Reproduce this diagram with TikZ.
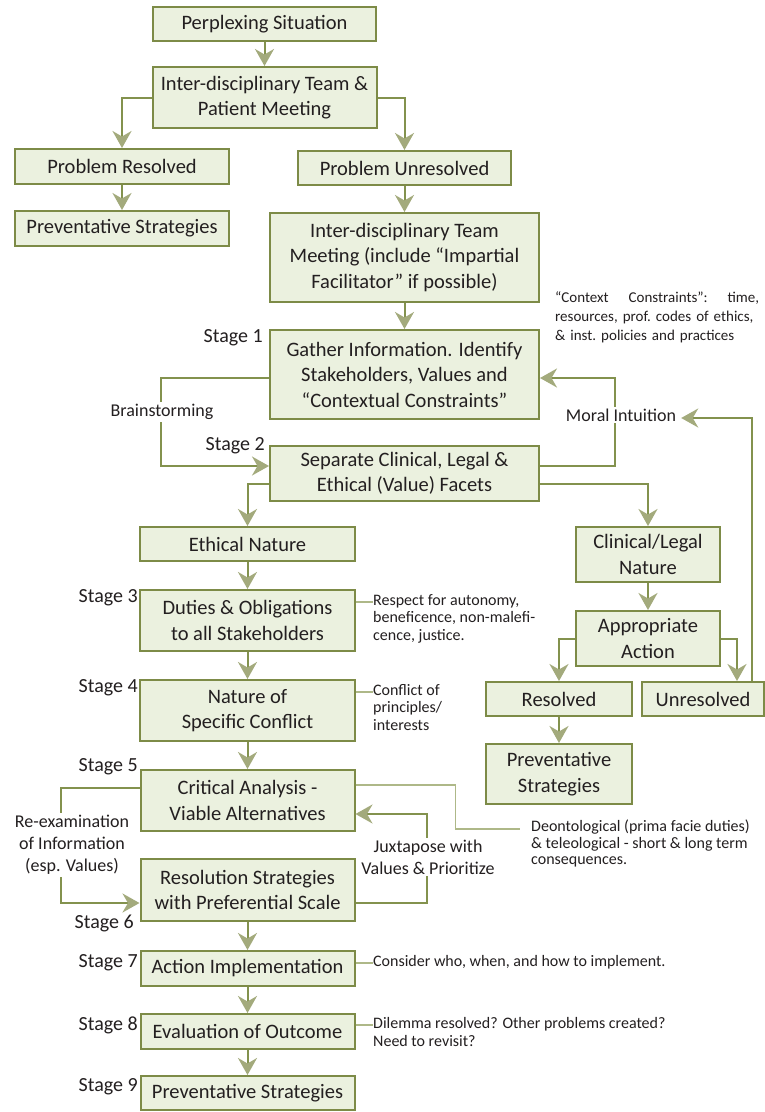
\documentclass[tikz,border=0pt]{standalone}
\usepackage{fontspec}
\setmainfont{Carlito}
\usetikzlibrary{arrows.meta,calc}
\definecolor{boxc}{HTML}{7D8B47}
\definecolor{fillc}{HTML}{EBF1DF}
\definecolor{linec}{HTML}{83924E}
\definecolor{arrc}{HTML}{A3AA7C}
\definecolor{lightc}{HTML}{AEB888}
\definecolor{txtc}{HTML}{231F20}
\begin{document}
\begin{tikzpicture}[x=1pt,y=-1pt,
 box/.style={draw=boxc, fill=fillc, line width=2pt, align=center, inner sep=0pt, text=txtc, font=\fontsize{20.5}{25.5}\selectfont},
 conn/.style={draw=linec, line width=2pt, -{Stealth[length=17pt,width=19pt,inset=5.5pt,color=arrc]}},
 thinline/.style={draw=lightc, line width=1.3pt},
 note/.style={align=left, text=txtc, font=\fontsize{16}{17.5}\selectfont, inner sep=0pt, anchor=north west},
 stage/.style={anchor=east, text=txtc, font=\fontsize{20}{22}\selectfont, inner sep=0pt},
 lab/.style={fill=white, align=center, text=txtc, font=\fontsize{18}{22}\selectfont, inner sep=2pt}]
\useasboundingbox (0,0) rectangle (765,1112);
\fill[white] (0,0) rectangle (765,1112);

% boxes
\node[box, minimum width=223pt, minimum height=34pt] (sit) at (264.5,24) {Perplexing Situation};
\node[box, minimum width=224pt, minimum height=61pt] (ipm) at (264.5,97.5) {Inter-disciplinary Team \&\\Patient Meeting};
\node[box, minimum width=214pt, minimum height=35pt] (pres) at (122,166.5) {Problem Resolved};
\node[box, minimum width=214pt, minimum height=35pt] (prevL) at (122,228.5) {Preventative Strategies};
\node[box, minimum width=213pt, minimum height=34pt] (punres) at (404.5,168) {Problem Unresolved};
\node[box, minimum width=269pt, minimum height=89pt] (itm) at (404.5,257.5) {Inter-disciplinary Team\\Meeting (include “Impartial\\Facilitator” if possible)};
\node[box, minimum width=269pt, minimum height=89pt] (gather) at (404.5,374.5) {Gather Information. Identify\\Stakeholders, Values and\\“Contextual Constraints”};
\node[box, minimum width=269pt, minimum height=55pt] (sep) at (404.5,473.5) {Separate Clinical, Legal \&\\Ethical (Value) Facets};
\node[box, minimum width=215pt, minimum height=34pt] (eth) at (247.5,544) {Ethical Nature};
\node[box, minimum width=215pt, minimum height=61pt] (duties) at (247.5,620.5) {Duties \& Obligations\\to all Stakeholders};
\node[box, minimum width=215pt, minimum height=61pt] (conf) at (247.5,710.5) {Nature of\\Specific Conflict};
\node[box, minimum width=214pt, minimum height=61pt] (crit) at (247.5,800.5) {Critical Analysis -\\Viable Alternatives};
\node[box, minimum width=214pt, minimum height=62pt] (resol) at (247.5,890) {Resolution Strategies\\with Preferential Scale};
\node[box, minimum width=214pt, minimum height=35pt] (act) at (247.5,968.5) {Action Implementation};
\node[box, minimum width=214pt, minimum height=35pt] (eval) at (247.5,1031.5) {Evaluation of Outcome};
\node[box, minimum width=214pt, minimum height=34pt] (prev9) at (247.5,1093) {Preventative Strategies};
\node[box, minimum width=144pt, minimum height=55pt] (clin) at (648,554.5) {Clinical/Legal\\Nature};
\node[box, minimum width=144pt, minimum height=55pt] (appr) at (648,638.5) {Appropriate\\Action};
\node[box, minimum width=146pt, minimum height=34pt] (resd) at (559,699) {Resolved};
\node[box, minimum width=122pt, minimum height=34pt] (unres) at (703,699) {Unresolved};
\node[box, minimum width=146pt, minimum height=60pt] (prevR) at (559,774) {Preventative\\Strategies};

% stage labels
\node[stage] (s1) at (263,338) {Stage 1};
\node[stage] (s2) at (265,446) {Stage 2};
\node[stage] (s3) at (138,598) {Stage 3};
\node[stage] (s4) at (138,688) {Stage 4};
\node[stage] (s5) at (138,767) {Stage 5};
\node[stage] (s6) at (134,923) {Stage 6};
\node[stage] (s7) at (138,963) {Stage 7};
\node[stage] (s8) at (138,1025) {Stage 8};
\node[stage] (s9) at (138,1087) {Stage 9};

% notes
\node[note, text width=204pt, font=\fontsize{15}{19}\selectfont] (ctx) at (555,291) {“Context\hfill Constraints”:\hfill time,\\resources, prof.\ codes of ethics,\\\& inst.\ policies and practices};
\node[note] (resp) at (373,594) {Respect for autonomy,\\beneficence, non-malefi-\\cence, justice.};
\node[note] (cnote) at (373,684) {Conflict of\\principles/\\interests};
\node[note, font=\fontsize{16}{16.5}\selectfont] (deon) at (531,820) {Deontological (prima facie duties)\\\& teleological - short \& long term\\consequences.};
\node[note] (cons) at (373,955) {Consider who, when, and how to implement.};
\node[note, font=\fontsize{16}{18}\selectfont] (dil) at (373,1017) {Dilemma resolved? Other problems created?\\Need to revisit?};

% main connectors
\draw[conn] (sit) -- (ipm);
\draw[conn] (ipm.west) -| (pres.north);
\draw[conn] (ipm.east) -| (punres.north);
\draw[conn] (pres) -- (prevL);
\draw[conn] (punres) -- (itm);
\draw[conn] (itm) -- (gather);
\draw[conn] ([yshift=-3.5pt]gather.west) -- ++(-108,0) |- ([yshift=7.5pt]sep.west);
\draw[conn] ([yshift=-10.5pt]sep.west) -| (eth.north);
\draw[conn] ([yshift=7.5pt]sep.east) -- ++(75,0) |- ([yshift=-3.5pt]gather.east);
\draw[conn] ([yshift=-10.5pt]sep.east) -| (clin.north);
\draw[conn] (clin) -- (appr);
\draw[conn] (appr.west) -| (resd.north);
\draw[conn] (appr.east) -| ([xshift=34pt]unres.north);
\draw[conn] (resd) -- (prevR);
\draw[conn] (eth) -- (duties);
\draw[conn] (duties) -- (conf);
\draw[conn] (conf) -- (crit);
\draw[conn] ([yshift=12.5pt]crit.west) -- ++(-79,0) |- ([yshift=-13pt]resol.west);
\draw[conn] ([yshift=-13pt]resol.east) -- ++(71,0) |- ([yshift=-13.5pt]crit.east);
\draw[conn] (resol) -- (act);
\draw[conn] (act) -- (eval);
\draw[conn] (eval) -- (prev9);

% labels on connectors
\node[lab] (brain) at (162,412) {Brainstorming};
\node[lab, inner xsep=5pt] (moral) at (621,415) {Moral Intuition};
\node[lab] (reex) at (72,845) {Re-examination\\of Information\\(esp. Values)};
\node[lab] (juxt) at (428,857) {Juxtapose with\\Values \& Prioritize};
\draw[conn] ([xshift=49pt]unres.north) |- ([yshift=-3pt]moral.east);

% note connectors
\draw[thinline] ([yshift=18.5pt]duties.east) -- ([yshift=18.5pt]duties.east -| resp.west);
\draw[thinline] ([yshift=18.5pt]conf.east) -- ([yshift=18.5pt]conf.east -| cnote.west);
\draw[thinline] ([yshift=5.5pt]act.east) -- ([yshift=5.5pt]act.east -| cons.west);
\draw[thinline] ([yshift=6.5pt]eval.east) -- ([yshift=6.5pt]eval.east -| dil.west);
\draw[thinline] ([yshift=15.5pt]crit.east) -- ++(100,0) |- ([xshift=-11pt,yshift=-9pt]deon.north west);
\end{tikzpicture}
\end{document}
